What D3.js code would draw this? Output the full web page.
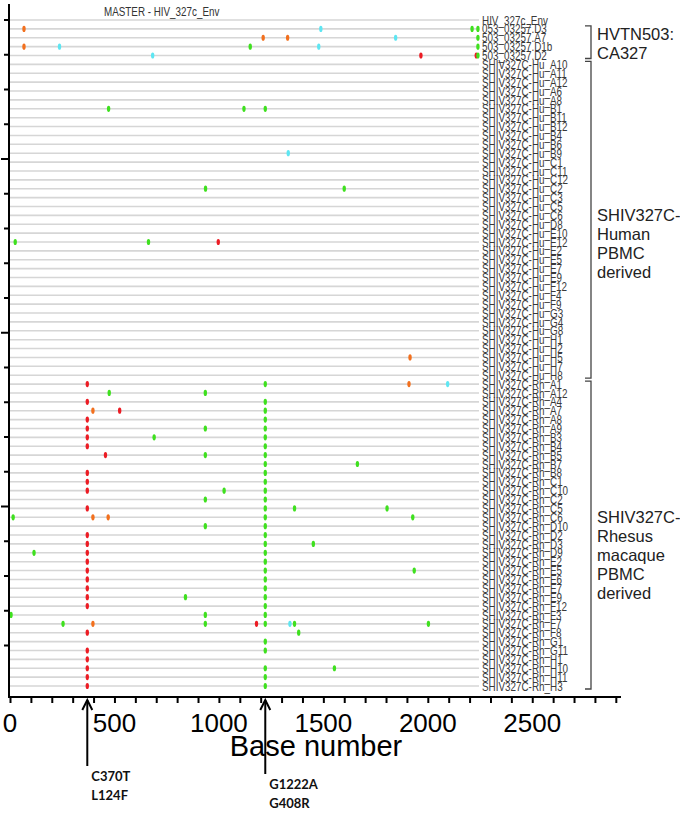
<!DOCTYPE html>
<html>
<head>
<meta charset="utf-8">
<script src="https://cdn.jsdelivr.net/npm/d3@7"></script>
<style>
  body { margin: 0; background: #fff; }
  svg { display: block; }
</style>
</head>
<body>
<div id="chart"></div>
<script>
// sequence names, top to bottom
const seqNames = [
  "HIV_327c_Env", "053_03257.D3", "503_03257.A7", "503_03257.D1b", "503_03257.D2",
  "SHIV327C-Hu_A10", "SHIV327C-Hu_A11", "SHIV327C-Hu_A12", "SHIV327C-Hu_A6", "SHIV327C-Hu_A8",
  "SHIV327C-Hu_B1", "SHIV327C-Hu_B11", "SHIV327C-Hu_B12", "SHIV327C-Hu_B4", "SHIV327C-Hu_B6",
  "SHIV327C-Hu_B9", "SHIV327C-Hu_C1", "SHIV327C-Hu_C11", "SHIV327C-Hu_C12", "SHIV327C-Hu_C2",
  "SHIV327C-Hu_C3", "SHIV327C-Hu_C5", "SHIV327C-Hu_C6", "SHIV327C-Hu_D8", "SHIV327C-Hu_E10",
  "SHIV327C-Hu_E12", "SHIV327C-Hu_E2", "SHIV327C-Hu_E5", "SHIV327C-Hu_E7", "SHIV327C-Hu_E9",
  "SHIV327C-Hu_F12", "SHIV327C-Hu_F4", "SHIV327C-Hu_F9", "SHIV327C-Hu_G3", "SHIV327C-Hu_G4",
  "SHIV327C-Hu_G8", "SHIV327C-Hu_H1", "SHIV327C-Hu_H2", "SHIV327C-Hu_H5", "SHIV327C-Hu_H7",
  "SHIV327C-Hu_H8",
  "SHIV327C-Rh_A1", "SHIV327C-Rh_A12", "SHIV327C-Rh_A4", "SHIV327C-Rh_A7", "SHIV327C-Rh_A8",
  "SHIV327C-Rh_A9", "SHIV327C-Rh_B3", "SHIV327C-Rh_B4", "SHIV327C-Rh_B5", "SHIV327C-Rh_B7",
  "SHIV327C-Rh_B8", "SHIV327C-Rh_C1", "SHIV327C-Rh_C10", "SHIV327C-Rh_C2", "SHIV327C-Rh_C5",
  "SHIV327C-Rh_C6", "SHIV327C-Rh_D10", "SHIV327C-Rh_D2", "SHIV327C-Rh_D3", "SHIV327C-Rh_D9",
  "SHIV327C-Rh_E2", "SHIV327C-Rh_E5", "SHIV327C-Rh_E6", "SHIV327C-Rh_E7", "SHIV327C-Rh_E9",
  "SHIV327C-Rh_F12", "SHIV327C-Rh_F3", "SHIV327C-Rh_F7", "SHIV327C-Rh_F8", "SHIV327C-Rh_G1",
  "SHIV327C-Rh_G11", "SHIV327C-Rh_H1", "SHIV327C-Rh_H10", "SHIV327C-Rh_H11", "SHIV327C-Rh_H3"
];

// mismatches vs master: "position+base", one string per sequence
const mutations = [
  "",
  "67G 1488C 2212A 2240A",
  "1212G 1329G 1846C 2240A",
  "67G 237C 1150A 1478C 2240A",
  "683C 1967T 2232T 2240A",
  "", "", "", "", "",
  "472A 1120A 1222A",
  "", "", "", "",
  "1332C",
  "", "", "",
  "936A 1600A",
  "", "", "", "", "",
  "25A 663A 997T",
  "", "", "", "", "", "", "", "", "", "", "", "",
  "1915G",
  "", "",
  // rhesus
  "370T 1222A 1910G 2095C",
  "475A 935A",
  "370T 1222A",
  "397G 525T 1222A",
  "370T 1222A",
  "370T 935A 1222A",
  "370T 690A 1222A",
  "370T 1222A",
  "457T 935A 1222A",
  "1222A 1663A",
  "370T 1222A",
  "370T 1222A",
  "370T 1025A 1222A",
  "935A 1222A",
  "370T 1222A 1362A 1805A",
  "15A 397G 470G 1222A 1928A",
  "935A 1222A",
  "370T 1222A",
  "370T 1222A 1452A",
  "115A 370T 1222A",
  "370T 1222A",
  "370T 1222A 1935A",
  "370T 1222A",
  "370T 1222A",
  "370T 840A 1222A",
  "370T 1222A",
  "5A 935A 1222A",
  "254A 397G 935A 1180T 1222A 1340C 1362A 2003A",
  "370T 1382A",
  "1222A",
  "370T 1222A",
  "370T",
  "370T 1222A 1553A",
  "370T 1222A",
  "370T 1222A"
];

const seqLength = 2245;
const xTicks = d3.range(0, 2901, 100);
const xTickLabels = [0, 500, 1000, 1500, 2000, 2500];

// group brackets: [first row, last row, label lines]
const groups = [
  [1, 4, ["HVTN503:", "CA327"]],
  [5, 40, ["SHIV327C-", "Human", "PBMC", "derived"]],
  [41, 75, ["SHIV327C-", "Rhesus", "macaque", "PBMC", "derived"]]
];
const groupLabelRow = [1.6, 22, 56];

const arrows = [
  { pos: 370, lines: ["C370T", "L124F"] },
  { pos: 1222, lines: ["G1222A", "G408R"] }
];

const baseColors = { A: "#3fe01f", C: "#5ee6f2", G: "#f2701e", T: "#ec1c24" };

const width = 680, height = 813;

const svg = d3.select("#chart").append("svg")
  .attr("width", width)
  .attr("height", height);

const x = d3.scaleLinear().domain([0, 2900]).range([10, 10 + 2900 * 0.2089]);
const y = d3.scaleLinear().domain([0, seqNames.length - 1]).range([20, 686]);
const axisY = 697;

// row lines
svg.append("g").selectAll("line")
  .data(seqNames)
  .join("line")
  .attr("x1", x(0))
  .attr("x2", x(seqLength))
  .attr("y1", (d, i) => y(i))
  .attr("y2", (d, i) => y(i))
  .attr("stroke", "#d6d6d6")
  .attr("stroke-width", 1.6);

// mismatch marks
const marks = [];
mutations.forEach((s, i) => {
  s.split(" ").filter(t => t).forEach(t => {
    marks.push({ row: i, pos: +t.slice(0, -1), base: t.slice(-1) });
  });
});
svg.append("g").selectAll("ellipse")
  .data(marks)
  .join("ellipse")
  .attr("cx", d => x(d.pos))
  .attr("cy", d => y(d.row))
  .attr("rx", 1.7)
  .attr("ry", 3.1)
  .attr("fill", d => baseColors[d.base]);

// row labels (narrow)
svg.append("g").selectAll("text")
  .data(seqNames)
  .join("text")
  .attr("transform", (d, i) => "translate(482," + (y(i) + 4.6) + ") scale(0.76,1)")
  .attr("font-family", "'Liberation Sans', Arial, sans-serif")
  .attr("font-size", 13)
  .attr("fill", "#3a3a3a")
  .text(d => d);

svg.append("text")
  .attr("transform", "translate(104,16) scale(0.82,1)")
  .attr("font-family", "'Liberation Sans', Arial, sans-serif")
  .attr("font-size", 12)
  .attr("fill", "#333")
  .text("MASTER - " + seqNames[0]);

// brackets
const br = svg.append("g").attr("stroke", "#444").attr("stroke-width", 1.3).attr("fill", "none");
groups.forEach(g => {
  const top = y(g[0]) - 3, bot = y(g[1]) + 3;
  br.append("path").attr("d", "M585," + top + "H591V" + bot + "H585");
});
groups.forEach((g, gi) => {
  const cy = y(groupLabelRow[gi]);
  svg.append("g").selectAll("text")
    .data(g[2])
    .join("text")
    .attr("x", 597)
    .attr("y", (d, k) => cy + 6 + k * 19)
    .attr("font-family", "'Liberation Sans', Arial, sans-serif")
    .attr("font-size", 16.5)
    .attr("fill", "#222")
    .text(d => d);
});

// y axis
const yTicks = d3.range(0, 19);
svg.append("line")
  .attr("x1", 9).attr("x2", 9).attr("y1", 4).attr("y2", axisY)
  .attr("stroke", "#000").attr("stroke-width", 2);
svg.append("g").selectAll("line")
  .data(yTicks)
  .join("line")
  .attr("x1", d => (d + 1) % 5 === 0 ? 1 : 4)
  .attr("x2", 9)
  .attr("y1", d => 20 + d * 34.75)
  .attr("y2", d => 20 + d * 34.75)
  .attr("stroke", "#000").attr("stroke-width", 2);

// x axis
const xAxis = d3.axisBottom(x)
  .tickValues(xTicks)
  .tickSize(6)
  .tickFormat("");
const gx = svg.append("g")
  .attr("transform", "translate(0," + axisY + ")")
  .call(xAxis);
gx.select(".domain").attr("d", "M8,0H621").attr("stroke-width", 2.2);
gx.selectAll(".tick line").attr("stroke-width", 2);

svg.append("g").selectAll("text")
  .data(xTickLabels)
  .join("text")
  .attr("x", d => x(d))
  .attr("y", 732)
  .attr("text-anchor", "middle")
  .attr("font-family", "'Liberation Sans', Arial, sans-serif")
  .attr("font-size", 26)
  .attr("fill", "#000")
  .text(d => d);

svg.append("text")
  .attr("x", 316)
  .attr("y", 756)
  .attr("text-anchor", "middle")
  .attr("font-family", "'Liberation Sans', Arial, sans-serif")
  .attr("font-size", 29)
  .attr("fill", "#000")
  .text("Base number");

// arrows for the two shared mutations
arrows.forEach((a, i) => {
  const ax = x(a.pos);
  const bottom = i === 0 ? 766 : 774;
  const g = svg.append("g");
  g.append("line")
    .attr("x1", ax).attr("x2", ax).attr("y1", bottom).attr("y2", axisY + 3)
    .attr("stroke", "#000").attr("stroke-width", 2);
  g.append("path")
    .attr("d", "M" + (ax - 5) + "," + (axisY + 13) + "L" + ax + "," + (axisY + 3) + "L" + (ax + 5) + "," + (axisY + 13))
    .attr("fill", "none").attr("stroke", "#000").attr("stroke-width", 2);
  g.selectAll("text")
    .data(a.lines)
    .join("text")
    .attr("x", ax + 4)
    .attr("y", (d, k) => bottom + 15 + k * 19)
    .attr("font-family", "Lato, 'Open Sans', sans-serif")
    .attr("font-weight", "bold")
    .attr("font-size", 13)
    .attr("fill", "#111")
    .text(d => d);
});
</script>
</body>
</html>
